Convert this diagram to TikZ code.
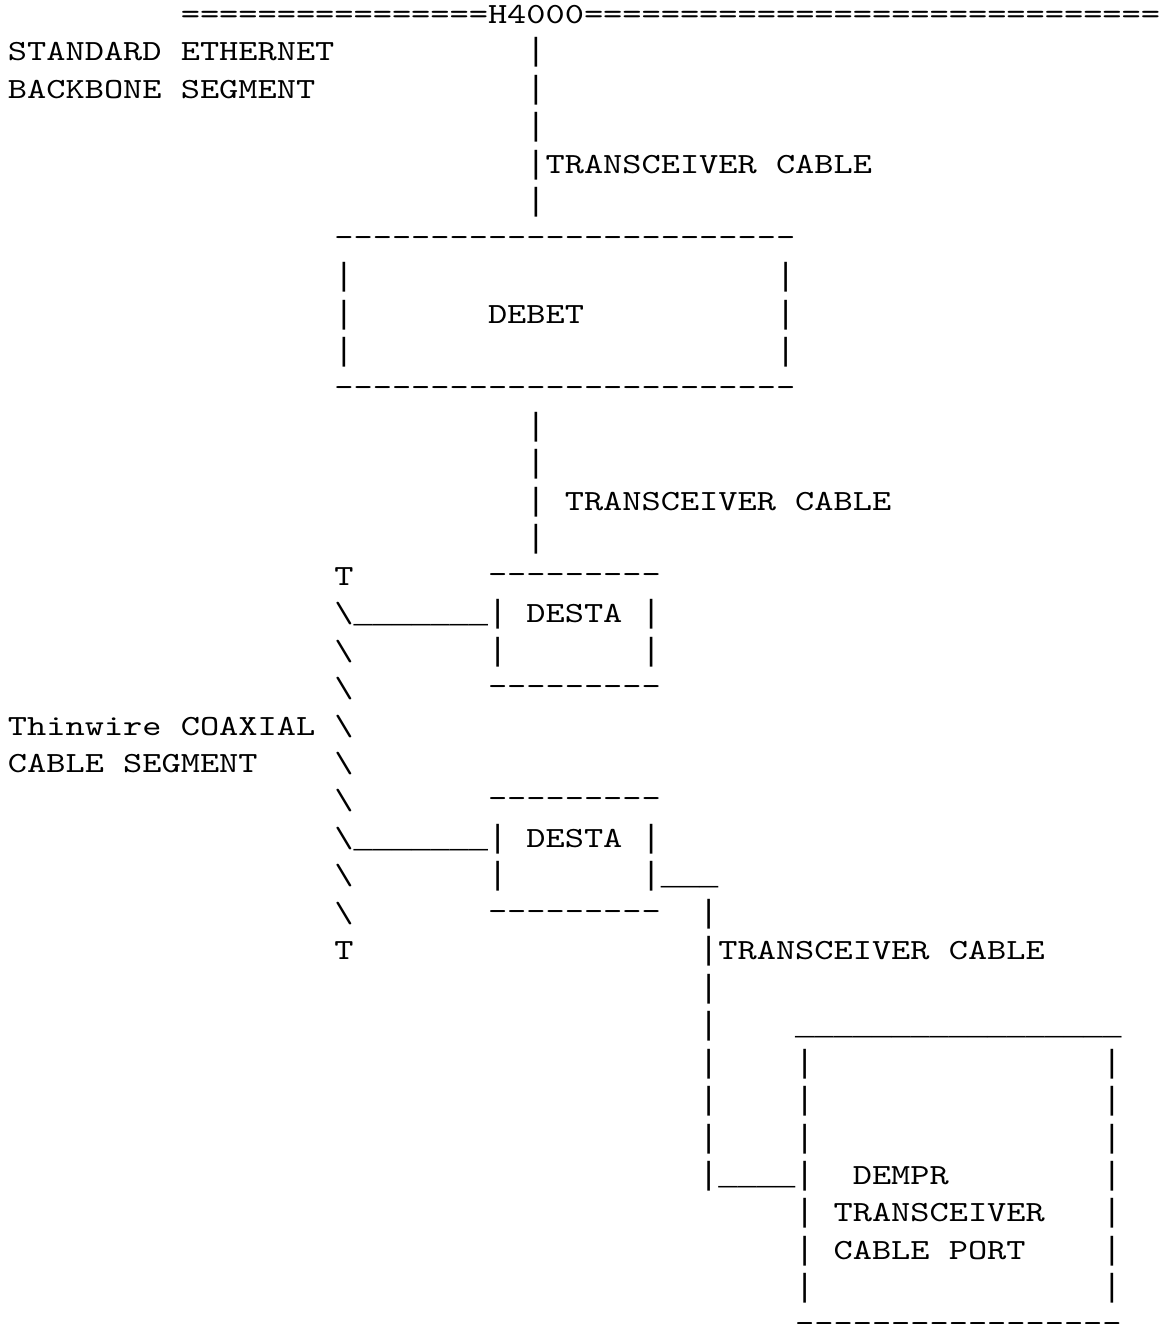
\documentclass[tikz,border=0pt]{standalone}
\usepackage{tikz}
\font\asciifnt="[lmmono10-regular]:extend=1.25" at 14.63pt
\font\wirefnt="Liberation Mono" at 16pt

\begin{document}
\begin{tikzpicture}[
    x=9.6pt, y=-18.725pt,
    ascii/.style={anchor=base west, inner sep=0pt, outer sep=0pt, font=\asciifnt},
    dashes/.style={ascii, yshift=1pt},
    wire/.style={ascii, font=\wirefnt}
  ]
    \useasboundingbox (-4pt,-6.975pt) rectangle (577pt,-668.975pt);

    \node (h4000_bus) [ascii] at (9,1) {================H4000==============================};
    \node (backbone_lbl1) [ascii] at (0,2) {STANDARD ETHERNET};
    \node (backbone_lbl2) [ascii] at (0,3) {BACKBONE SEGMENT};

    \foreach \r in {2,...,6} \node (cable_a\r) [wire] at (27,\r) {|};
    \node (cable_a_lbl) [ascii] at (28,5) {TRANSCEIVER CABLE};

    \node (debet_top) [dashes] at (17,7) {------------------------};
    \foreach \r in {8,...,10} {
      \node (debet_l\r) [wire] at (17,\r) {|};
      \node (debet_r\r) [wire] at (40,\r) {|};
    }
    \node (debet) [ascii] at (25,9) {DEBET};
    \node (debet_bot) [dashes] at (17,11) {------------------------};

    \foreach \r in {12,...,15} \node (cable_b\r) [wire] at (27,\r) {|};
    \node (cable_b_lbl) [ascii] at (29,14) {TRANSCEIVER CABLE};

    \node (term_top) [ascii] at (17,16) {T};
    \foreach \r in {17,...,25} \node (coax\r) [ascii] at (17,\r) {\textbackslash};
    \node (term_bot) [ascii] at (17,26) {T};
    \node (coax_lbl1) [ascii] at (0,20) {Thinwire COAXIAL};
    \node (coax_lbl2) [ascii] at (0,21) {CABLE SEGMENT};

    \node (desta1_top) [dashes] at (25,16) {---------};
    \node (tap1) [wire] at (18,17) {\_\_\_\_\_\_\_};
    \foreach \r in {17,18} {
      \node (desta1_l\r) [wire] at (25,\r) {|};
      \node (desta1_r\r) [wire] at (33,\r) {|};
    }
    \node (desta1) [ascii] at (27,17) {DESTA};
    \node (desta1_bot) [dashes] at (25,19) {---------};

    \node (desta2_top) [dashes] at (25,22) {---------};
    \node (tap2) [wire] at (18,23) {\_\_\_\_\_\_\_};
    \foreach \r in {23,24} {
      \node (desta2_l\r) [wire] at (25,\r) {|};
      \node (desta2_r\r) [wire] at (33,\r) {|};
    }
    \node (desta2) [ascii] at (27,23) {DESTA};
    \node (desta2_bot) [dashes] at (25,25) {---------};

    \node (cable_c_top) [wire] at (34,24) {\_\_\_};
    \foreach \r in {25,...,32} \node (cable_c\r) [wire] at (36,\r) {|};
    \node (cable_c_lbl) [ascii] at (37,26) {TRANSCEIVER CABLE};
    \node (cable_c_bot) [wire] at (37,32) {\_\_\_\_};

    \node (dempr_top) [wire] at (41,28) {\_\_\_\_\_\_\_\_\_\_\_\_\_\_\_\_\_};
    \foreach \r in {29,...,35} {
      \node (dempr_l\r) [wire] at (41,\r) {|};
      \node (dempr_r\r) [wire] at (57,\r) {|};
    }
    \node (dempr) [ascii] at (44,32) {DEMPR};
    \node (dempr_lbl1) [ascii] at (43,33) {TRANSCEIVER};
    \node (dempr_lbl2) [ascii] at (43,34) {CABLE PORT};
    \node (dempr_bot) [dashes] at (41,36) {-----------------};

  \end{tikzpicture}
\end{document}
